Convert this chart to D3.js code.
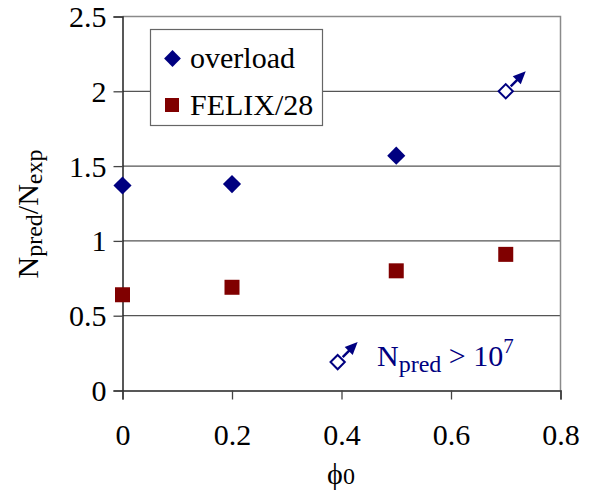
<!DOCTYPE html>
<html>
<head>
<meta charset="utf-8">
<script src="https://cdn.jsdelivr.net/npm/d3@7"></script>
</head>
<body style="margin:0; background:#fff">
<script>
var width = 589, height = 493;
var FONT = "Liberation Serif";

// data
var phiOverload = [0, 0.2, 0.5];
var overload = [1.37, 1.38, 1.57];
var phiFelix = [0, 0.2, 0.5, 0.7];
var felix = [0.64, 0.69, 0.80, 0.91];
var phiOpen = [0.7];
var openVals = [2.0];
var xTicks = [0, 0.2, 0.4, 0.6, 0.8];
var yTicks = [0, 0.5, 1, 1.5, 2, 2.5];

var navy = "#000080", darkred = "#800000";

var svg = d3.select("body").append("svg")
    .attr("width", width)
    .attr("height", height)
    .attr("font-family", FONT);

var x = d3.scaleLinear().domain([0, 0.8]).range([122.5, 560.5]);
var y = d3.scaleLinear().domain([0, 2.5]).range([390.5, 16.5]);

// gridlines
svg.append("g")
    .selectAll("line")
    .data(yTicks.slice(1, 5))
    .enter().append("line")
    .attr("x1", x(0)).attr("x2", x(0.8))
    .attr("y1", function (d) { return y(d); })
    .attr("y2", function (d) { return y(d); })
    .attr("stroke", "#555").attr("stroke-width", 1.2);

// frame top/right
svg.append("path")
    .attr("d", "M" + x(0) + "," + y(2.5) + "H" + x(0.8) + "V" + y(0))
    .attr("fill", "none")
    .attr("stroke", "#8a8a8a").attr("stroke-width", 1.5);

// axes
var yAxis = svg.append("g")
    .attr("transform", "translate(" + x(0) + ",0)")
    .call(d3.axisLeft(y).tickValues(yTicks).tickSize(9).tickPadding(7)
        .tickFormat(function (d) { return d; }));
var xAxis = svg.append("g")
    .attr("transform", "translate(0," + y(0) + ")")
    .call(d3.axisBottom(x).tickValues(xTicks).tickSize(9).tickPadding(26)
        .tickFormat(function (d) { return d; }));
[yAxis, xAxis].forEach(function (a) {
    a.attr("font-family", FONT).attr("font-size", 30);
    a.select(".domain").attr("stroke", "#222").attr("stroke-width", 1.5);
    a.selectAll(".tick line").attr("stroke", "#444").attr("stroke-width", 1.3);
    a.selectAll(".tick text").attr("fill", "#000");
});
yAxis.selectAll(".tick text").attr("dy", "0.33em");
xAxis.selectAll(".tick text").attr("dy", "0.66em");

// axis titles
var yl = svg.append("text")
    .attr("transform", "translate(38,214) rotate(-90)")
    .attr("text-anchor", "middle")
    .attr("font-size", 30);
yl.append("tspan").text("N");
yl.append("tspan").attr("font-size", 24).attr("dy", 4).text("pred");
yl.append("tspan").attr("dy", -4).text("/N");
yl.append("tspan").attr("font-size", 24).attr("dy", 4).text("exp");

var xl = svg.append("text")
    .attr("x", 341).attr("y", 484)
    .attr("text-anchor", "middle")
    .attr("font-size", 30);
xl.append("tspan").text("\u03d5");
xl.append("tspan").attr("font-size", 24).text("0");

var diamond = d3.symbol().type(d3.symbolDiamond2);

function arrow(g, x0, y0) {
    g.append("line")
        .attr("x1", x0 + 5).attr("y1", y0 - 5)
        .attr("x2", x0 + 12).attr("y2", y0 - 12)
        .attr("stroke", navy).attr("stroke-width", 2.5);
    g.append("path")
        .attr("d", "M" + (x0 + 20) + "," + (y0 - 20) +
            "L" + (x0 + 7) + "," + (y0 - 15) +
            "L" + (x0 + 15) + "," + (y0 - 7) + "Z")
        .attr("fill", navy);
}

// FELIX squares
svg.append("g")
    .selectAll("rect")
    .data(felix)
    .enter().append("rect")
    .attr("x", function (d, i) { return x(phiFelix[i]) - 7.5; })
    .attr("y", function (d) { return y(d) - 7.5; })
    .attr("width", 15).attr("height", 15)
    .attr("fill", darkred);

// overload diamonds
svg.append("g")
    .selectAll("path")
    .data(overload)
    .enter().append("path")
    .attr("d", diamond.size(210))
    .attr("transform", function (d, i) {
        return "translate(" + x(phiOverload[i]) + "," + y(d) + ")";
    })
    .attr("fill", navy);

// open diamond with arrow (off scale)
phiOpen.forEach(function (p, i) {
    var g = svg.append("g");
    arrow(g, x(p), y(openVals[i]));
    g.append("path")
        .attr("d", d3.symbol().type(d3.symbolDiamond2).size(130)())
        .attr("transform", "translate(" + x(p) + "," + y(openVals[i]) + ")")
        .attr("fill", "#fff").attr("stroke", navy).attr("stroke-width", 2);
});

// legend
var lg = svg.append("g");
lg.append("rect")
    .attr("x", 150.5).attr("y", 29.5)
    .attr("width", 172).attr("height", 96)
    .attr("fill", "#fff").attr("stroke", "#666").attr("stroke-width", 1.2);
lg.append("path")
    .attr("d", diamond.size(180))
    .attr("transform", "translate(172.5,58.5)")
    .attr("fill", navy);
lg.append("text").attr("x", 190).attr("y", 68).attr("font-size", 30).text("overload");
lg.append("rect")
    .attr("x", 165).attr("y", 98).attr("width", 14).attr("height", 14)
    .attr("fill", darkred);
lg.append("text").attr("x", 190).attr("y", 115).attr("font-size", 30).text("FELIX/28");

// annotation
var ax = x(0.393), ay = y(0.19);
var ag = svg.append("g");
arrow(ag, ax, ay);
ag.append("path")
    .attr("d", d3.symbol().type(d3.symbolDiamond2).size(130)())
    .attr("transform", "translate(" + ax + "," + ay + ")")
    .attr("fill", "#fff").attr("stroke", navy).attr("stroke-width", 2);
var at = ag.append("text")
    .attr("x", 377).attr("y", 366)
    .attr("font-size", 30).attr("fill", navy);
at.append("tspan").text("N");
at.append("tspan").attr("font-size", 24).attr("dy", 6).text("pred");
at.append("tspan").attr("dy", -6).text(" > 10");
at.append("tspan").attr("font-size", 21).attr("dy", -13).text("7");
</script>
</body>
</html>
